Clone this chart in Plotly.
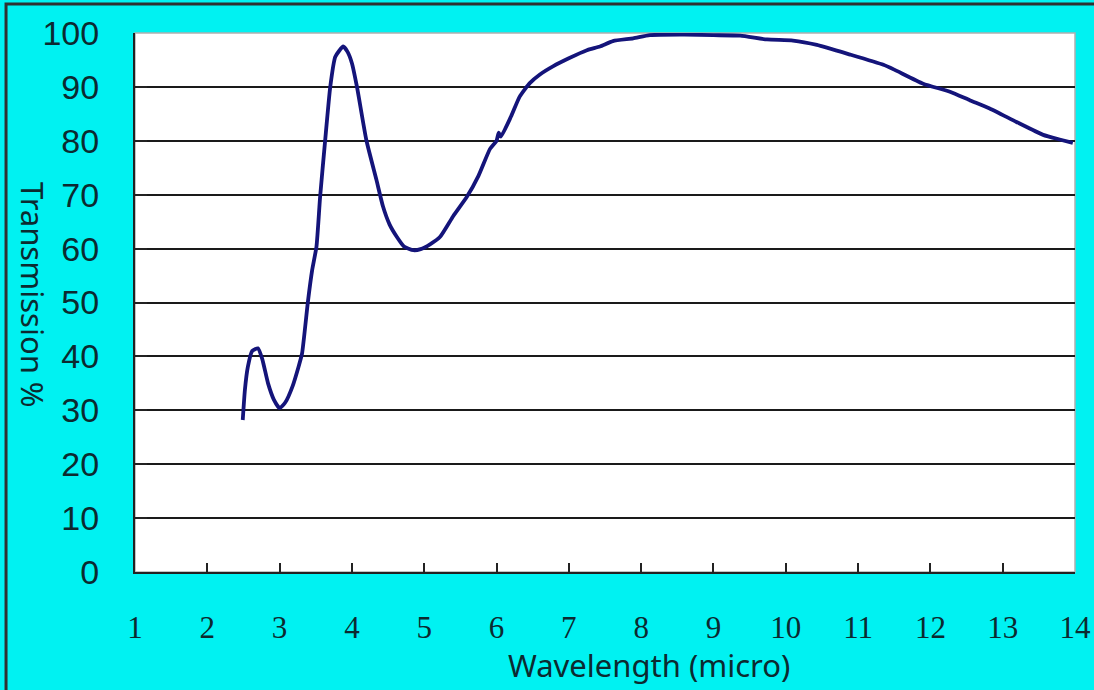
import plotly.graph_objects as go

wavelength = [2.49, 2.52, 2.56, 2.62, 2.70, 2.76, 2.84, 2.92, 3.00, 3.08, 3.18, 3.26, 3.31,
              3.39, 3.45, 3.51, 3.56, 3.63, 3.70, 3.77, 3.88, 3.94, 4.00, 4.07, 4.20, 4.34,
              4.43, 4.52, 4.62, 4.72, 4.85, 4.95, 5.08, 5.22, 5.40, 5.59, 5.75, 5.91, 6.00,
              6.03, 6.06, 6.20, 6.32, 6.46, 6.60, 6.78, 7.00, 7.25, 7.43, 7.61, 7.89, 8.12,
              8.60, 9.00, 9.37, 9.74, 10.10, 10.43, 10.89, 11.35, 11.50, 11.90, 12.27, 12.55,
              12.82, 13.19, 13.56, 13.80, 13.97]
transmission = [28.2, 33.8, 38.0, 41.0, 41.5, 39.5, 35.0, 32.0, 30.4, 31.5, 34.5, 38.0, 40.5,
                50.0, 56.0, 60.4, 69.6, 80.1, 90.0, 95.6, 97.5, 96.5, 94.4, 90.0, 80.1, 72.7,
                67.8, 64.5, 62.2, 60.4, 59.7, 59.9, 60.8, 62.2, 66.0, 69.6, 73.5, 78.5, 80.0,
                81.5, 80.8, 84.5, 88.2, 90.7, 92.3, 93.8, 95.3, 96.8, 97.5, 98.5, 99.0, 99.6,
                99.7, 99.6, 99.5, 98.8, 98.6, 97.8, 96.0, 94.1, 93.2, 90.6, 89.1, 87.5,
                86.0, 83.5, 81.1, 80.2, 79.6]

x_ticks = list(range(1, 15))
y_ticks = list(range(0, 101, 10))

fig = go.Figure()
fig.add_trace(go.Scatter(x=wavelength, y=transmission, mode="lines",
                         line=dict(color="#14147a", width=3.8, shape="spline", smoothing=0.5),
                         showlegend=False, hoverinfo="skip"))

fig.update_layout(
    width=1094, height=690,
    margin=dict(l=135, r=19, t=33, b=118),
    paper_bgcolor="#00F2F2",
    plot_bgcolor="white",
    xaxis=dict(range=[1, 14], tickvals=x_ticks, ticks="inside", ticklen=9, tickwidth=1.5,
               tickcolor="#222", showline=True, linecolor="#222", linewidth=2,
               showgrid=False, zeroline=False, ticklabelstandoff=27,
               ticklabeloverflow="allow", automargin=False,
               tickfont=dict(family="Liberation Serif", size=31, color="#0c2a30")),
    yaxis=dict(range=[0, 100], tickvals=y_ticks, ticks="inside", ticklen=12, tickwidth=1.5,
               tickcolor="#222", showline=True, linecolor="#222", linewidth=2,
               showgrid=True, gridcolor="#1a1a1a", gridwidth=1.5, zeroline=False,
               ticklabelstandoff=27, automargin=False,
               tickfont=dict(family="Liberation Sans", size=34, color="#0c2a30")),
    annotations=[
        dict(text="Wavelength (micro)", xref="paper", yref="paper", x=0.547, y=-0.172,
             showarrow=False, xanchor="center", yanchor="middle",
             font=dict(family="Noto Sans", size=31, color="#0c2a30")),
        dict(text="Transmission %", xref="paper", yref="paper", x=-0.1085, y=0.514,
             showarrow=False, xanchor="center", yanchor="middle", textangle=90,
             font=dict(family="Noto Sans", size=31, color="#0c2a30")),
    ],
    shapes=[
        dict(type="rect", xref="paper", yref="paper", x0=0, x1=1, y0=0, y1=1,
             line=dict(color="#b0b0b0", width=1.5), layer="below"),
        dict(type="rect", xref="paper", yref="paper", x0=-0.1372, x1=1.3, y0=-0.5, y1=1.0538,
             line=dict(color="#303030", width=3), layer="above"),
    ],
)

fig.write_html("out.html", config={"displayModeBar": False},
               post_script="document.body.style.margin='0px';")
